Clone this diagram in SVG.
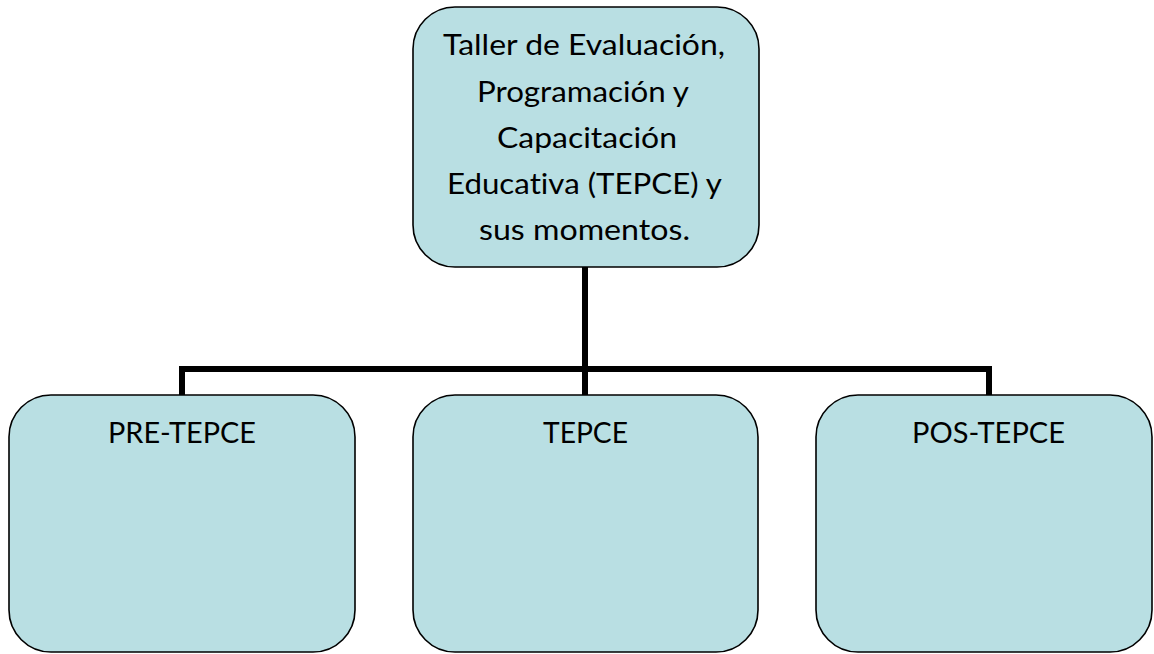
<svg xmlns="http://www.w3.org/2000/svg" width="1154" height="654" viewBox="0 0 1154 654">
<style>
.box{fill:#b9dfe3;stroke:#000;stroke-width:1.6}
.t{font-family:Lato,"Open Sans","Liberation Sans",sans-serif;font-size:29px;fill:#000;text-anchor:middle;font-variant-ligatures:none;font-feature-settings:"liga" 0}
.c{fill:none;stroke:#000;stroke-width:6;stroke-linejoin:miter;stroke-linecap:butt}
</style>
<rect width="1154" height="654" fill="#fff"/>
<g id="connectors">
<path class="c" d="M585,267 V369"/>
<path class="c" d="M182,395 V369 H989 V395"/>
<path class="c" d="M585,369 V395"/>
</g>
<g id="root">
<rect class="box" x="413" y="7" width="346" height="260" rx="42"/>
<text class="t" x="584" y="55" textLength="282" lengthAdjust="spacingAndGlyphs">Taller de Evaluación,</text>
<text class="t" x="583" y="102" textLength="212" lengthAdjust="spacingAndGlyphs">Programación y</text>
<text class="t" x="587" y="148" textLength="180" lengthAdjust="spacingAndGlyphs">Capacitación</text>
<text class="t" x="584.5" y="194" textLength="275" lengthAdjust="spacingAndGlyphs">Educativa (TEPCE) y</text>
<text class="t" x="584.5" y="240" textLength="211" lengthAdjust="spacingAndGlyphs">sus momentos.</text>
</g>
<g id="pre">
<rect class="box" x="9" y="395" width="346" height="257" rx="42"/>
<text class="t" x="182" y="443" textLength="148" lengthAdjust="spacingAndGlyphs">PRE-TEPCE</text>
</g>
<g id="tepce">
<rect class="box" x="413" y="395" width="345" height="257" rx="42"/>
<text class="t" x="585.5" y="443" textLength="85" lengthAdjust="spacingAndGlyphs">TEPCE</text>
</g>
<g id="pos">
<rect class="box" x="816" y="395" width="336" height="257" rx="42"/>
<text class="t" x="988.5" y="443" textLength="153" lengthAdjust="spacingAndGlyphs">POS-TEPCE</text>
</g>
</svg>
